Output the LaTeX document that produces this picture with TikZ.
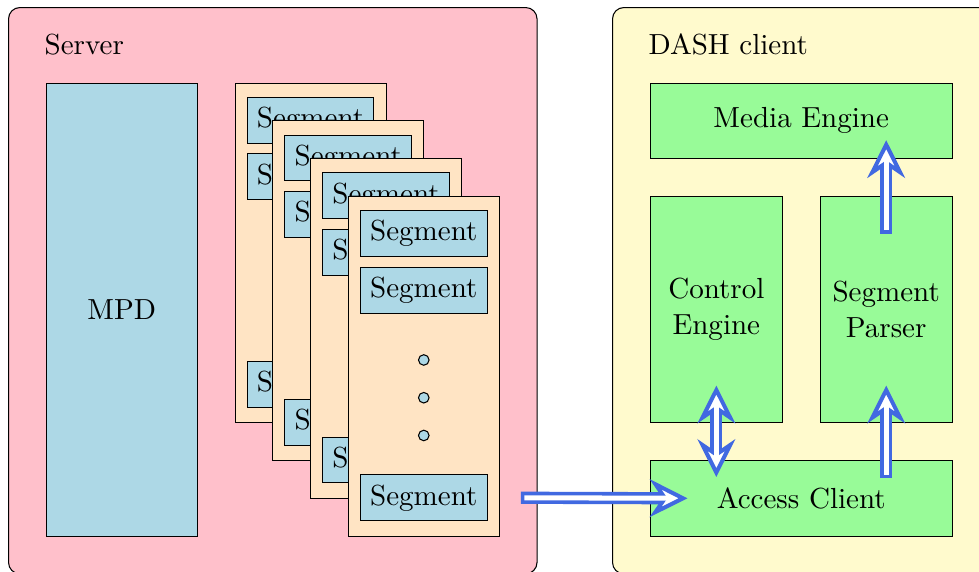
\documentclass[11pt,tikz,border=0pt]{standalone}
\usetikzlibrary{arrows.meta,calc}
\definecolor{serverpink}{RGB}{255,192,203}
\definecolor{clientyellow}{RGB}{255,250,205}
\definecolor{mpdblue}{RGB}{173,216,230}
\definecolor{pageorange}{RGB}{255,228,196}
\definecolor{enginegreen}{RGB}{152,251,152}
\definecolor{flowblue}{RGB}{65,105,225}

\begin{document}
\begin{tikzpicture}[
  area/.style={draw, rounded corners=0.15cm, anchor=north west, minimum height=7.5cm},
  block/.style={draw, fill=enginegreen, align=center, anchor=north west},
  page/.style={draw, fill=pageorange, minimum width=2cm, minimum height=4.5cm, anchor=north west},
  seg/.style={draw, fill=mpdblue},
  dot/.style={draw, fill=mpdblue, circle, inner sep=0pt, minimum size=0.14cm},
  >={Stealth[length=0.5cm, width=0.5cm, inset=0.17cm, fill=white, line width=1.5pt]},
  flow/.style={draw=flowblue, line width=4.6pt,
    postaction={draw=white, line width=1.9pt, -, shorten <=#1, shorten >=0.22cm}},
  flow/.default=1.35pt]
  \useasboundingbox (-0.106,0.093) rectangle (12.861,-7.483);

  % server side
  \node[area, fill=serverpink, minimum width=7cm] (server) at (0,0) {};
  \node[anchor=west] (serverlabel) at ([xshift=0.35cm, yshift=-0.5cm]server.north west) {Server};
  \node[draw, fill=mpdblue, minimum width=2cm, minimum height=6cm, anchor=north west] (mpd) at (0.5,-1) {MPD};
  \foreach \i in {0,...,3} {
    \node[page] (p\i) at (3+0.5*\i, -1-0.5*\i) {};
    \node[seg] (s\i-1) at ([yshift=-0.5cm]p\i.north) {Segment};
    \node[seg] (s\i-2) at ([yshift=-1.25cm]p\i.north) {Segment};
    \foreach \d [count=\k] in {2.175,2.675,3.175}
      \node[dot] (d\i-\k) at ([yshift=-\d cm]p\i.north) {};
    \node[seg] (s\i-3) at ([yshift=-4cm]p\i.north) {Segment};
  }

  % client side
  \node[area, fill=clientyellow, minimum width=5cm] (client) at (8,0) {};
  \node[anchor=west] (clientlabel) at ([xshift=0.35cm, yshift=-0.5cm]client.north west) {DASH client};
  \node[block, minimum width=4cm, minimum height=1cm] (me) at (8.5,-1) {Media Engine};
  \node[block, minimum width=1.75cm, minimum height=3cm] (ce) at (8.5,-2.5) {Control\\Engine};
  \node[block, minimum width=1.75cm, minimum height=3cm] (sp) at (10.75,-2.5) {Segment\\Parser};
  \node[block, minimum width=4cm, minimum height=1cm] (ac) at (8.5,-6) {Access Client};

  \draw[flow, ->] ([xshift=0.44cm]s3-3.east) -- ([xshift=0.5cm]ac.west);
  \draw[flow=0.22cm, <->] ([yshift=0.5cm]ce.south) -- ($(ce.south |- ac.north)+(0,-0.225)$);
  \draw[flow, ->] ($(sp.south |- ac.north)+(0,-0.24)$) -- ([yshift=0.5cm]sp.south);
  \draw[flow, ->] ([yshift=-0.5cm]sp.north) -- ($(sp.north |- me.south)+(0,0.25)$);
\end{tikzpicture}
\end{document}
